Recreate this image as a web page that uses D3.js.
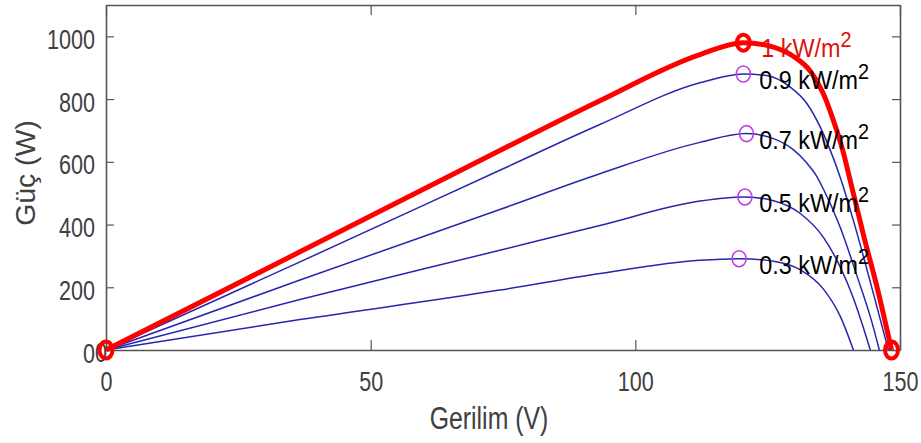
<!DOCTYPE html>
<html>
<head>
<meta charset="utf-8">
<script src="https://cdn.jsdelivr.net/npm/d3@7"></script>
<style>
  html, body { margin: 0; padding: 0; background: #fff; }
  svg { display: block; }
  text { font-family: "Liberation Sans", Arial, Helvetica, sans-serif; }
</style>
</head>
<body>
<svg id="chart" width="921" height="443"></svg>
<script>
// P-V curves of a PV array at different irradiance levels
const xTicks = [0, 50, 100, 150];
const yTicks = [0, 200, 400, 600, 800, 1000];

// Voltage (V) / power (W) samples for each irradiance level
const v100 = [0, 36.65, 74.4, 93.3, 112.2, 120.4, 126.1, 129.9, 133.0, 135.5, 137.4, 139.1, 140.6, 143.2, 145.8, 148.4];
const p100 = [0, 313, 636, 795, 942, 980, 966, 936, 890, 818, 733, 642, 540, 360, 191, 0];

const v90 = [0, 36.65, 74.4, 93.3, 112.2, 120.4, 124.8, 129.2, 132.4, 134.9, 136.8, 138.7, 141.5, 144.5, 147.8];
const p90 = [0, 281, 573, 719, 852, 880, 875, 839, 786, 712, 638, 551, 395, 210, 0];

const v70 = [0, 36.65, 74.4, 93.3, 112.2, 121.0, 126.1, 129.9, 132.4, 134.3, 135.5, 138.5, 142.0, 144.5, 146.1];
const p70 = [0, 223, 448, 562, 662, 690, 674, 638, 596, 553, 514, 400, 230, 100, 0];

const v50 = [0, 36.65, 74.4, 93.3, 112.2, 120.7, 126.1, 131.1, 135.5, 138.7, 141.2, 143.1, 144.4];
const p50 = [0, 161, 318, 397, 475, 488, 476, 436, 360, 265, 165, 70, 0];

const v30 = [0, 36.65, 74.4, 93.3, 112.2, 119.6, 126.1, 131.1, 135.5, 138.7, 141.2];
const p30 = [0, 97, 191, 244, 286, 291, 283, 256, 195, 108, 0];

// Maximum power points
const mppV = [120.4, 120.4, 121.0, 120.7, 119.6];
const mppP = [980, 880, 690, 488, 291];
const levelLabels = ["1 kW/m", "0.9 kW/m", "0.7 kW/m", "0.5 kW/m", "0.3 kW/m"];

// Open/short circuit points of the 1 kW/m² curve
const endV = [0, 148.4];
const endP = [0, 0];

const labelV = 123.4;

const svg = d3.select("#chart");
const plotLeft = 106, plotRight = 900, plotTop = 5, plotBottom = 350;

const x = d3.scaleLinear().domain([0, 150]).range([plotLeft, plotRight]);
const y = d3.scaleLinear().domain([0, 1100]).range([plotBottom, plotTop]);

const axisColor = "#555";
const tickText = "#404040";
const sx = 0.77;
const fmt = d3.format("d");

// Axes (box with inward ticks)
const gx = svg.append("g").attr("transform", `translate(0,${plotBottom})`)
  .call(d3.axisBottom(x).tickValues(xTicks).tickFormat(fmt).tickSizeInner(-10).tickSizeOuter(0));
gx.selectAll("text")
  .attr("y", 41).attr("dy", null)
  .attr("font-size", 28).attr("fill", tickText)
  .attr("transform", `scale(${sx},1)`);

const gy = svg.append("g").attr("transform", `translate(${plotLeft},0)`)
  .call(d3.axisLeft(y).tickValues(yTicks).tickFormat(fmt).tickSizeInner(-8).tickSizeOuter(0));
gy.selectAll("text")
  .attr("x", -11 / sx).attr("dy", 12)
  .attr("font-size", 28).attr("fill", tickText)
  .attr("transform", `scale(${sx},1)`);

const gt = svg.append("g").attr("transform", `translate(0,${plotTop})`)
  .call(d3.axisTop(x).tickValues(xTicks).tickSizeInner(-10).tickSizeOuter(0).tickFormat(""));
const gr = svg.append("g").attr("transform", `translate(${plotRight},0)`)
  .call(d3.axisRight(y).tickValues(yTicks).tickSizeInner(-8).tickSizeOuter(0).tickFormat(""));

[gx, gy, gt, gr].forEach(g => {
  g.select(".domain").attr("stroke", axisColor).attr("stroke-width", 1.6);
  g.selectAll(".tick line").attr("stroke", axisColor).attr("stroke-width", 1.2);
});

// extra zero beside the origin
svg.append("text")
  .attr("transform", `translate(101,${plotBottom + 12}) scale(${sx},1)`)
  .attr("text-anchor", "middle").attr("font-size", 28).attr("fill", tickText)
  .text("0");

// Axis titles
svg.append("text")
  .attr("transform", `translate(489,429) scale(0.8,1)`)
  .attr("text-anchor", "middle").attr("font-size", 31).attr("fill", tickText)
  .text("Gerilim (V)");
svg.append("text")
  .attr("transform", `translate(35,173) rotate(-90) scale(1.05,1)`)
  .attr("text-anchor", "middle").attr("font-size", 27).attr("fill", tickText)
  .text("Güç (W)");

// Curves
const line = d3.line().x(d => x(d[0])).y(d => y(d[1])).curve(d3.curveMonotoneX);
const zip = (a, b) => a.map((v, i) => [v, b[i]]);

const blue = "#2626b0";
[[v90, p90], [v70, p70], [v50, p50], [v30, p30]].forEach(([vs, ps]) => {
  svg.append("path").attr("d", line(zip(vs, ps)))
    .attr("fill", "none").attr("stroke", blue).attr("stroke-width", 1.5);
});
svg.append("path").attr("d", line(zip(v100, p100)))
  .attr("fill", "none").attr("stroke", "#f00").attr("stroke-width", 5)
  .attr("stroke-linejoin", "round");

// Maximum power point markers
mppV.forEach((v, i) => {
  if (i === 0) {
    svg.append("ellipse").attr("cx", x(v)).attr("cy", y(mppP[i]))
      .attr("rx", 6.5).attr("ry", 8).attr("fill", "none")
      .attr("stroke", "#f00").attr("stroke-width", 4);
  } else {
    svg.append("ellipse").attr("cx", x(v)).attr("cy", y(mppP[i]))
      .attr("rx", 7).attr("ry", 8).attr("fill", "none")
      .attr("stroke", "#c040e0").attr("stroke-width", 1.6);
  }
});

// End-point markers
endV.forEach((v, i) => {
  svg.append("ellipse").attr("cx", x(v)).attr("cy", y(endP[i]))
    .attr("rx", 6.5).attr("ry", 8.5).attr("fill", "none")
    .attr("stroke", "#f00").attr("stroke-width", 4);
});

// Irradiance labels
levelLabels.forEach((t, i) => {
  const by = y(mppP[i]) + (i === 0 ? 14 : 15);
  const txt = svg.append("text")
    .attr("transform", `translate(${x(labelV) + (i === 0 ? 2 : 0)},${by}) scale(0.9,1)`)
    .attr("font-size", 26).attr("fill", i === 0 ? "#e01010" : "#000");
  txt.append("tspan").text(t);
  txt.append("tspan").attr("dy", -10).attr("font-size", 22).text("2");
});
</script>
</body>
</html>
